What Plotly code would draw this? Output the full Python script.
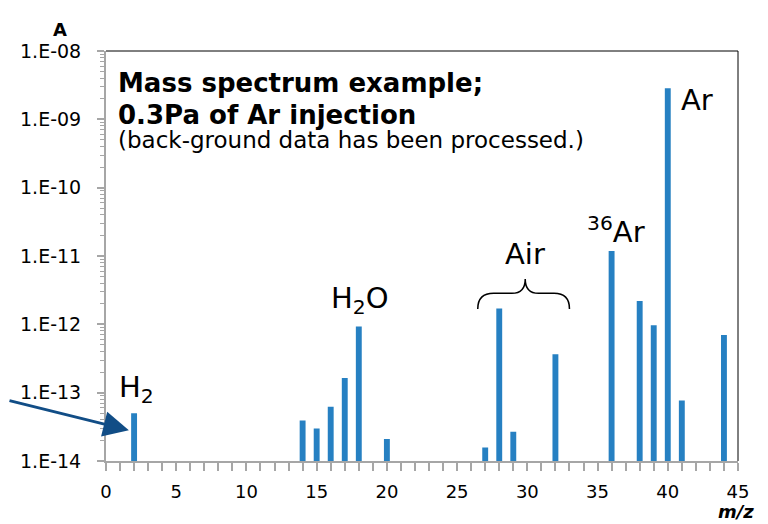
import plotly.graph_objects as go

mz = [2, 14, 15, 16, 17, 18, 20, 27, 28, 29, 32, 36, 38, 39, 40, 41, 44]
current = [5.0e-14, 3.9e-14, 3.0e-14, 6.2e-14, 1.64e-13, 9.3e-13, 2.1e-14,
           1.58e-14, 1.71e-12, 2.69e-14, 3.64e-13, 1.18e-11, 2.19e-12,
           9.7e-13, 2.84e-9, 7.7e-14, 7.0e-13]

y_tickvals = [1e-14, 1e-13, 1e-12, 1e-11, 1e-10, 1e-9, 1e-8]
y_ticktext = ["1.E-14", "1.E-13", "1.E-12", "1.E-11", "1.E-10", "1.E-09", "1.E-08"]
x_tickvals = list(range(0, 46))
x_ticktext = [str(v) if v % 5 == 0 else "" for v in x_tickvals]

FONT = "DejaVu Sans"
BAR = "#2680c2"
AXIS = "#a6a6a6"

fig = go.Figure()
fig.add_trace(go.Bar(x=mz, y=current, width=0.42,
                     marker=dict(color=BAR, line=dict(width=0))))

# page body has an 8px margin; compensate so the plot area sits where the reference has it
fig.update_layout(
    width=760, height=516,
    margin=dict(l=96, r=30, t=43, b=63),
    plot_bgcolor="white", paper_bgcolor="white",
    showlegend=False,
    font=dict(family=FONT, color="black", size=18),
)
fig.update_xaxes(
    range=[0, 45], tickvals=x_tickvals, ticktext=x_ticktext,
    ticks="outside", ticklen=8, tickwidth=2, tickcolor=AXIS,
    showline=True, linecolor=AXIS, linewidth=2, showgrid=False, zeroline=False,
    tickfont=dict(family=FONT, size=18), ticklabelstandoff=5,
)
fig.update_yaxes(
    type="log", range=[-14, -8], tickvals=y_tickvals, ticktext=y_ticktext,
    ticks="outside", ticklen=7, tickwidth=2, tickcolor=AXIS,
    minor=dict(ticks="outside", ticklen=4, tickwidth=1, tickcolor=AXIS, dtick="D1", showgrid=False),
    showline=True, linecolor=AXIS, linewidth=2, showgrid=False, zeroline=False,
    tickfont=dict(family=FONT, size=19), ticklabelstandoff=12,
)

# top and right borders
fig.add_shape(type="line", xref="paper", yref="paper", x0=0, x1=1, y0=1, y1=1,
              line=dict(color="black", width=1))
fig.add_shape(type="line", xref="paper", yref="paper", x0=1, x1=1, y0=0, y1=1,
              line=dict(color="black", width=1))

# brace over Air peaks
brace = ("M 26.47,0.371 Q 26.47,0.409 27.6,0.409 L 28.9,0.409 "
         "Q 29.85,0.409 29.85,0.444 Q 29.85,0.409 30.8,0.409 "
         "L 31.9,0.409 Q 33.0,0.409 33.0,0.371")
fig.add_shape(type="path", xref="x", yref="paper", path=brace,
              line=dict(color="black", width=1.5))

ann = []
ann.append(dict(text="<b>Mass spectrum example;</b>",
                xref="paper", yref="paper", x=0.017, y=0.921, xanchor="left", yanchor="middle",
                showarrow=False, font=dict(size=26, family=FONT), borderpad=0))
ann.append(dict(text="<b>0.3Pa of Ar injection</b>",
                xref="paper", yref="paper", x=0.017, y=0.845, xanchor="left", yanchor="middle",
                showarrow=False, font=dict(size=26, family=FONT), borderpad=0))
ann.append(dict(text="(back-ground data has been processed.)",
                xref="paper", yref="paper", x=0.017, y=0.784, xanchor="left", yanchor="middle",
                showarrow=False, font=dict(size=23, family=FONT), borderpad=0))
ann.append(dict(text="H<sub>2</sub>", x=2.2, y=-12.95, xref="x", yref="y",
                showarrow=False, font=dict(size=29, family=FONT)))
ann.append(dict(text="H<sub>2</sub>O", x=18.1, y=-11.65, xref="x", yref="y",
                showarrow=False, font=dict(size=29, family=FONT)))
ann.append(dict(text="Air", x=29.8, y=-10.97, xref="x", yref="y",
                showarrow=False, font=dict(size=29, family=FONT)))
ann.append(dict(text="<sup>36</sup>Ar", x=36.3, y=-10.62, xref="x", yref="y",
                showarrow=False, font=dict(size=29, family=FONT)))
ann.append(dict(text="Ar", x=42.1, y=-8.72, xref="x", yref="y",
                showarrow=False, font=dict(size=29, family=FONT)))
ann.append(dict(text="<b>A</b>", xref="paper", yref="paper", x=-0.0726, y=1.052,
                xanchor="center", yanchor="middle",
                showarrow=False, font=dict(size=18, family=FONT)))
ann.append(dict(text="<b><i>m/z</i></b>", xref="paper", yref="paper", x=0.997, y=-0.124,
                xanchor="center", yanchor="middle",
                showarrow=False, font=dict(size=18, family=FONT), borderpad=0))
# arrow pointing to H2 peak
ann.append(dict(x=1.63, y=-13.55, xref="x", yref="y", ax=-130, ay=-30, axref="pixel", ayref="pixel",
                text="", showarrow=True, arrowhead=2, arrowsize=1.7, arrowwidth=3,
                arrowcolor="#114d86"))
fig.update_layout(annotations=ann)

fig.write_html("out.html")
